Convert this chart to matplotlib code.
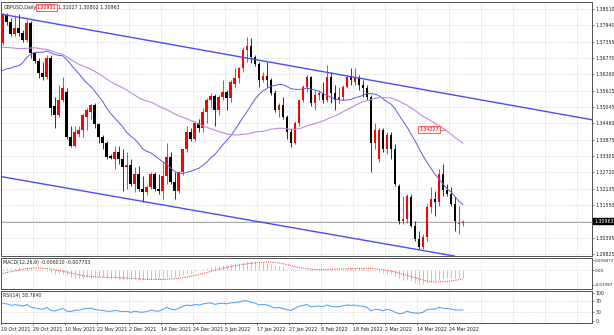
import numpy as np
import matplotlib
matplotlib.use("Agg")
import matplotlib.pyplot as plt
from matplotlib.transforms import blended_transform_factory

# ---- daily GBPUSD bars (19 Oct 2021 .. 29 Mar 2022) ----
opens = [1.3732, 1.3831, 1.3806, 1.3764, 1.3785, 1.3767, 1.3743, 1.3803, 1.3697, 1.3668,
         1.3626, 1.3612, 1.3679, 1.3506, 1.3477, 1.3530, 1.3559, 1.3399, 1.3364, 1.3410,
         1.3421, 1.3467, 1.3488, 1.3513, 1.3442, 1.3399, 1.3378, 1.3329, 1.3318, 1.3346,
         1.3318, 1.3290, 1.3297, 1.3230, 1.3265, 1.3212, 1.3201, 1.3219, 1.3265, 1.3212,
         1.3205, 1.3258, 1.3325, 1.3237, 1.3205, 1.3272, 1.3354, 1.3417, 1.3389, 1.3449,
         1.3431, 1.3488, 1.3530, 1.3544, 1.3495, 1.3541, 1.3559, 1.3537, 1.3587, 1.3608,
         1.3643, 1.3707, 1.3721, 1.3682, 1.3658, 1.3601, 1.3615, 1.3601, 1.3555, 1.3495,
         1.3513, 1.3470, 1.3417, 1.3378, 1.3449, 1.3530, 1.3576, 1.3612, 1.3520, 1.3548,
         1.3555, 1.3530, 1.3612, 1.3555, 1.3530, 1.3541, 1.3576, 1.3612, 1.3594, 1.3608,
         1.3583, 1.3573, 1.3541, 1.3378, 1.3318, 1.3424, 1.3354, 1.3406, 1.3354, 1.3223,
         1.3099, 1.3106, 1.3184, 1.3081, 1.3035, 1.3007, 1.3042, 1.3148, 1.3177, 1.3166,
         1.3265, 1.3208, 1.3194, 1.3159, 1.3088, 1.30931]
highs = [1.3838, 1.3838, 1.3820, 1.3831, 1.3834, 1.3778, 1.3813, 1.3810, 1.3700, 1.3679,
         1.3665, 1.3689, 1.3689, 1.3541, 1.3583, 1.3612, 1.3573, 1.3435, 1.3435, 1.3435,
         1.3484, 1.3502, 1.3516, 1.3520, 1.3449, 1.3406, 1.3382, 1.3336, 1.3364, 1.3364,
         1.3354, 1.3346, 1.3318, 1.3290, 1.3293, 1.3258, 1.3226, 1.3272, 1.3272, 1.3265,
         1.3308, 1.3378, 1.3343, 1.3272, 1.3276, 1.3354, 1.3435, 1.3431, 1.3453, 1.3460,
         1.3502, 1.3537, 1.3555, 1.3552, 1.3548, 1.3601, 1.3566, 1.3601, 1.3643, 1.3647,
         1.3718, 1.3753, 1.3750, 1.3689, 1.3665, 1.3629, 1.3665, 1.3608, 1.3566, 1.3520,
         1.3541, 1.3477, 1.3431, 1.3453, 1.3530, 1.3583, 1.3619, 1.3615, 1.3566, 1.3566,
         1.3594, 1.3654, 1.3629, 1.3583, 1.3576, 1.3583, 1.3619, 1.3643, 1.3643, 1.3619,
         1.3601, 1.3583, 1.3548, 1.3449, 1.3431, 1.3431, 1.3417, 1.3417, 1.3371, 1.3230,
         1.3187, 1.3194, 1.3194, 1.3099, 1.3063, 1.3053, 1.3159, 1.3219, 1.3205, 1.3283,
         1.3300, 1.3230, 1.3219, 1.3184, 1.3152, 1.31027]
lows = [1.3725, 1.3796, 1.3757, 1.3757, 1.3757, 1.3735, 1.3735, 1.3679, 1.3661, 1.3608,
        1.3601, 1.3605, 1.3477, 1.3431, 1.3470, 1.3523, 1.3392, 1.3361, 1.3361, 1.3399,
        1.3399, 1.3424, 1.3460, 1.3431, 1.3378, 1.3354, 1.3318, 1.3318, 1.3283, 1.3300,
        1.3205, 1.3212, 1.3223, 1.3201, 1.3205, 1.3166, 1.3191, 1.3212, 1.3205, 1.3194,
        1.3177, 1.3230, 1.3230, 1.3177, 1.3198, 1.3261, 1.3343, 1.3382, 1.3385, 1.3417,
        1.3414, 1.3449, 1.3502, 1.3435, 1.3477, 1.3530, 1.3495, 1.3523, 1.3576, 1.3590,
        1.3629, 1.3665, 1.3661, 1.3651, 1.3576, 1.3594, 1.3576, 1.3548, 1.3488, 1.3470,
        1.3460, 1.3389, 1.3361, 1.3371, 1.3435, 1.3523, 1.3559, 1.3506, 1.3495, 1.3530,
        1.3520, 1.3523, 1.3520, 1.3495, 1.3520, 1.3530, 1.3573, 1.3583, 1.3583, 1.3566,
        1.3541, 1.3530, 1.3272, 1.3354, 1.3308, 1.3346, 1.3336, 1.3318, 1.3223, 1.3088,
        1.3088, 1.3092, 1.3078, 1.3028, 1.3000, 1.3000, 1.3028, 1.3127, 1.3116, 1.3152,
        1.3187, 1.3187, 1.3152, 1.3063, 1.3053, 1.30802]
closes = [1.3831, 1.3806, 1.3764, 1.3785, 1.3767, 1.3743, 1.3803, 1.3697, 1.3668, 1.3626,
          1.3612, 1.3679, 1.3502, 1.3477, 1.3530, 1.3573, 1.3399, 1.3364, 1.3417, 1.3421,
          1.3477, 1.3495, 1.3513, 1.3442, 1.3399, 1.3378, 1.3325, 1.3322, 1.3346, 1.3318,
          1.3290, 1.3297, 1.3230, 1.3265, 1.3212, 1.3201, 1.3219, 1.3265, 1.3212, 1.3205,
          1.3258, 1.3325, 1.3237, 1.3205, 1.3272, 1.3354, 1.3417, 1.3389, 1.3449, 1.3431,
          1.3488, 1.3530, 1.3544, 1.3495, 1.3541, 1.3559, 1.3537, 1.3594, 1.3608, 1.3643,
          1.3707, 1.3721, 1.3682, 1.3658, 1.3601, 1.3615, 1.3601, 1.3555, 1.3495, 1.3513,
          1.3470, 1.3417, 1.3378, 1.3449, 1.3530, 1.3576, 1.3612, 1.3520, 1.3548, 1.3555,
          1.3530, 1.3612, 1.3555, 1.3530, 1.3541, 1.3576, 1.3612, 1.3601, 1.3608, 1.3583,
          1.3573, 1.3541, 1.3378, 1.3424, 1.3424, 1.3354, 1.3406, 1.3354, 1.3230, 1.3099,
          1.3106, 1.3187, 1.3081, 1.3035, 1.3007, 1.3042, 1.3148, 1.3177, 1.3166, 1.3265,
          1.3208, 1.3194, 1.3159, 1.3099, 1.3093, 1.30963]

# closes before the first shown bar, used to warm up the indicators
prior_closes = [1.3870, 1.3840, 1.3865, 1.3815, 1.3870, 1.3835, 1.3750, 1.3745, 1.3650, 1.3625,
                1.3725, 1.3735, 1.3735, 1.3715, 1.3760, 1.3760, 1.3755, 1.3795, 1.3835, 1.3870,
                1.3835, 1.3770, 1.3755, 1.3835, 1.3835, 1.3830, 1.3815, 1.3820, 1.3780, 1.3740,
                1.3660, 1.3665, 1.3670, 1.3720, 1.3675, 1.3700, 1.3545, 1.3415, 1.3475, 1.3535,
                1.3615, 1.3615, 1.3590, 1.3610, 1.3615, 1.3590, 1.3605, 1.3670, 1.3700, 1.3750,
                1.3735]

date_labels = ["19 Oct 2021", "29 Oct 2021", "10 Nov 2021", "22 Nov 2021", "2 Dec 2021",
               "14 Dec 2021", "24 Dec 2021", "5 Jan 2022", "17 Jan 2022", "27 Jan 2022",
               "8 Feb 2022", "18 Feb 2022", "2 Mar 2022", "14 Mar 2022", "24 Mar 2022"]
price_ticks = [1.38510, 1.37940, 1.37355, 1.36770, 1.36200, 1.35615, 1.35045, 1.34460,
               1.33875, 1.33305, 1.32720, 1.32135, 1.31550, 1.30980, 1.30395, 1.29825]
price_tick_labels = ["1.38510", "1.37940", "1.37355", "1.36770", "1.36200", "1.35615",
                     "1.35045", "1.34460", "1.33875", "1.33305", "1.32720", "1.32135",
                     "1.31550", "", "1.30395", "1.29825"]
macd_ticks = [0.009472, 0.0, -0.01397]
macd_tick_labels = ["0.009472", "0.00", "-0.01397"]
rsi_ticks = [100, 70, 30, 0]

# channel trendlines: two anchor points each (bar index, price)
upper_channel = ([0, 100], [1.3833, 1.3579])
lower_channel = ([0, 100], [1.3256, 1.3007])
marker_price = 1.34227
marker_bar = 106.6

header_symbol = "GBPUSD,Daily"
header_open = "1.30931"
header_rest = "1.31027 1.30802 1.30963"
macd_title = "MACD(12,26,9) -0.006010 -0.007733"
rsi_title = "RSI(14) 38.7640"

# ---- indicators ----
allc = np.array(prior_closes + closes)
npre = len(prior_closes)
n = len(closes)
x = np.arange(n)


def sma(a, p):
    out = np.full(len(a), np.nan)
    c = np.cumsum(np.insert(a, 0, 0.0))
    out[p - 1:] = (c[p:] - c[:-p]) / p
    return out


def ema(a, p):
    k = 2.0 / (p + 1)
    out = np.empty(len(a))
    out[0] = a[0]
    for i in range(1, len(a)):
        out[i] = a[i] * k + out[i - 1] * (1 - k)
    return out


def rsi(a, p=14):
    d = np.diff(a)
    g = np.where(d > 0, d, 0.0)
    l = np.where(d < 0, -d, 0.0)
    out = np.full(len(a), np.nan)
    ag, al = g[:p].mean(), l[:p].mean()
    out[p] = 100 - 100 / (1 + ag / al)
    for i in range(p, len(d)):
        ag = (ag * (p - 1) + g[i]) / p
        al = (al * (p - 1) + l[i]) / p
        out[i + 1] = 100 - 100 / (1 + ag / al) if al > 0 else 100
    return out


ma_fast = sma(allc, 20)[npre:]
ma_slow = sma(allc, 50)[npre:]
macd_all = ema(allc, 12) - ema(allc, 26)
signal_all = sma(macd_all, 9)
macd_main = macd_all[npre:]
macd_signal = signal_all[npre:]
rsi_line = rsi(allc, 14)[npre:]

# ---- layout (pixel based) ----
W, H = 614, 335
fig = plt.figure(figsize=(W / 100, H / 100), dpi=100)
fig.patch.set_facecolor("white")


def rect(l, t, r, b):
    return [l / W, 1 - b / H, (r - l) / W, (b - t) / H]


ax = fig.add_axes(rect(1, 2, 592, 256))
axm = fig.add_axes(rect(1, 258, 592, 289))
axr = fig.add_axes(rect(1, 291, 592, 323))

xlim = (-0.425, 147.3)
grid_x = [8 * k - 0.5 for k in range(19)]
FS = 3.4
grid_kw = dict(color="#c4c4c4", lw=0.5, linestyle=(0, (1.2, 1.8)), zorder=0)

for a in (ax, axm, axr):
    a.set_xlim(*xlim)
    a.set_facecolor("white")
    for s in a.spines.values():
        s.set_color("#505050")
        s.set_linewidth(0.7)
    for gx in grid_x:
        a.axvline(gx, **grid_kw)
    a.yaxis.tick_right()
    a.tick_params(axis="y", which="both", direction="out", length=1.5, width=0.4,
                  pad=1.0, labelsize=FS, colors="#202020")
    a.tick_params(axis="x", bottom=False, labelbottom=False)

# main price panel
ax.set_ylim(1.29750, 1.38770)
for p in price_ticks:
    ax.axhline(p, **grid_kw)
ax.set_yticks(price_ticks)
ax.set_yticklabels(price_tick_labels)

o = np.array(opens); h = np.array(highs); lo = np.array(lows); c = np.array(closes)
up = c >= o
cols = np.where(up, "#ff0000", "#000000")
ax.vlines(x, lo, h, colors=cols, lw=0.55, zorder=3)
body_low = np.minimum(o, c)
body_h = np.maximum(np.abs(c - o), 0.00012)
ax.bar(x, body_h, bottom=body_low, width=0.62, color=cols, linewidth=0, zorder=4)

ax.plot(x, ma_fast, color="#5a5ae6", lw=0.7, zorder=5)
ax.plot(x, ma_slow, color="#c288e0", lw=0.8, zorder=5)

ax.axline((upper_channel[0][0], upper_channel[1][0]), (upper_channel[0][1], upper_channel[1][1]),
          color="#4a4aff", lw=1.0, zorder=6)
ax.axline((lower_channel[0][0], lower_channel[1][0]), (lower_channel[0][1], lower_channel[1][1]),
          color="#4a4aff", lw=1.0, zorder=6)

# bid line and price box
last = closes[-1]
ax.axhline(last, color="#9a9a9a", lw=0.6, zorder=2)
tr = blended_transform_factory(ax.transAxes, ax.transData)
ax.text(1.0035, last, f"{last:.5f}", transform=tr, fontsize=FS, color="white",
        ha="left", va="center", clip_on=False,
        bbox=dict(boxstyle="square,pad=0.18", fc="black", ec="black", lw=0.3))

# price label object
ax.text(marker_bar, marker_price, f"{marker_price:.5f}", fontsize=FS, color="#e00000",
        ha="center", va="center", zorder=7,
        bbox=dict(boxstyle="square,pad=0.2", fc="#fff2f2", ec="#ff2020", lw=0.5))
ax.plot([marker_bar + 3.0, marker_bar + 4.0], [marker_price, marker_price],
        color="#ff6060", lw=0.6, zorder=7)

# header line
ax.text(0.004, 0.988, header_symbol, transform=ax.transAxes, fontsize=FS,
        ha="left", va="top", color="#202020")
ax.text(0.060, 0.988, header_open, transform=ax.transAxes, fontsize=FS,
        ha="left", va="top", color="#e00000",
        bbox=dict(boxstyle="square,pad=0.12", fc="#fff2f2", ec="#ff2020", lw=0.5))
ax.text(0.097, 0.988, header_rest, transform=ax.transAxes, fontsize=FS,
        ha="left", va="top", color="#202020")

# MACD panel
axm.set_ylim(-0.01788, 0.01143)
axm.axhline(0.0, **grid_kw)
axm.vlines(x, 0, macd_main, colors="#b4b4b4", lw=0.55, zorder=2)
axm.plot(x, macd_signal, color="#ff2020", lw=0.7, linestyle=(0, (1, 1.3)), zorder=3)
axm.set_yticks(macd_ticks)
axm.set_yticklabels(macd_tick_labels)
axm.tick_params(axis="y", labelsize=3.0, pad=0.6)
axm.text(0.004, 0.93, macd_title, transform=axm.transAxes, fontsize=FS,
         ha="left", va="top", color="#202020")

# RSI panel
axr.set_ylim(-8.3, 107.2)
for lv in (70, 30):
    axr.axhline(lv, **grid_kw)
axr.plot(x, rsi_line, color="#3f9cff", lw=0.7, zorder=3)
axr.set_yticks(rsi_ticks)
axr.set_yticklabels([str(v) for v in rsi_ticks])
axr.text(0.004, 0.95, rsi_title, transform=axr.transAxes, fontsize=FS,
         ha="left", va="top", color="#202020")

# time axis
axr.tick_params(axis="x", bottom=True, labelbottom=True, direction="out", length=1.5,
                width=0.4, pad=1.5, labelsize=FS, colors="#202020")
axr.set_xticks(grid_x[:len(date_labels)])
axr.set_xticklabels(date_labels, ha="left")

fig.savefig("out.png", dpi=100, facecolor="white")
